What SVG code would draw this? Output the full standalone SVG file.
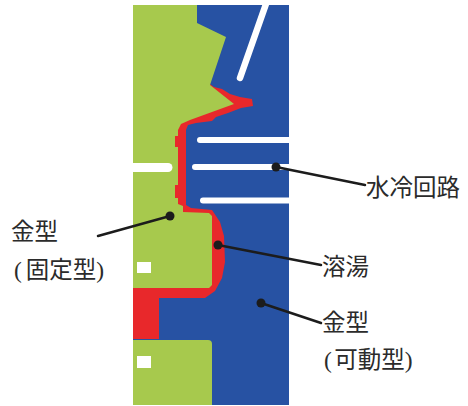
<svg xmlns="http://www.w3.org/2000/svg" width="468" height="406" viewBox="0 0 468 406">
  <style>
    .die-moving { fill: #2752a3; }
    .die-fixed { fill: #a7c94d; }
    .melt { fill: #e8282b; }
    .cool { fill: #ffffff; }
    .leader { stroke: #1c1c1c; stroke-width: 2.5; fill: none; stroke-linecap: round; }
    .dot { fill: #1c1c1c; }
    .label { font-family: "Liberation Serif", "Noto Sans CJK JP", serif; font-size: 23.5px; fill: #2b2b2b; }
  </style>
  <defs>
    <clipPath id="panel-clip">
      <rect x="133" y="5" width="156" height="400"/>
    </clipPath>
  </defs>

  <rect width="468" height="406" fill="#ffffff"/>

  <!-- cross-section of the die -->
  <g id="mold-section" clip-path="url(#panel-clip)">
    <!-- movable die (blue) -->
    <rect class="die-moving" x="133" y="5" width="156" height="400"/>
    <!-- molten metal layer along the die faces -->
    <path class="melt" d="M207,82 L214,87 L222,89 L230,94 L240,97 L252,99 L253,106 L241,108 L228,113 L216,117 L212,121 L196,123 L188,125 L186,130 L186,205 L191,208 L212,210 L220,222 L224,236 L225,262 L222,278 L215,291 L205,298 L159,298 L159,339 L133,339 L133,82 Z"/>
    <!-- fixed die (green), upper part -->
    <path class="die-fixed" d="M133,5 L197,5 L197,23 L226,37 L210,85 L234,104 L190,120 L181,124 L178,130 L178,204 L183,206 L183,212 L209,213 L212,216 L212,285 L209,288 L133,288 Z"/>
    <!-- melt pockets cut into the fixed die -->
    <rect class="melt" x="175" y="136" width="6" height="11"/>
    <rect class="melt" x="175" y="185" width="6" height="13"/>
    <!-- fixed die, lower part -->
    <path class="die-fixed" d="M133,340 L208,340 Q212,340 212,344 L212,405 L133,405 Z"/>

    <!-- cooling channels -->
    <line x1="266" y1="4" x2="240" y2="78" stroke="#ffffff" stroke-width="6.5" stroke-linecap="round"/>
    <path class="cool" d="M289,137 H200 A3,3 0 0 0 200,143 H289 Z"/>
    <path class="cool" d="M289,164 H195 A3,3 0 0 0 195,170 H289 Z"/>
    <path class="cool" d="M289,197.5 H203 A3,3 0 0 0 203,203.5 H289 Z"/>
    <path class="cool" d="M133,163 H168 A4.5,4.5 0 0 1 168,172 H133 Z"/>
    <rect class="cool" x="137" y="262" width="14" height="11"/>
    <rect class="cool" x="137" y="356" width="14" height="12"/>
  </g>

  <!-- leader lines -->
  <g id="leaders">
    <line class="leader" x1="276" y1="167" x2="365" y2="185"/>
    <circle class="dot" cx="276" cy="167" r="4.5"/>
    <line class="leader" x1="170" y1="216" x2="98" y2="236"/>
    <circle class="dot" cx="170" cy="216" r="4.5"/>
    <line class="leader" x1="218" y1="245" x2="321" y2="265"/>
    <circle class="dot" cx="218" cy="245" r="4.5"/>
    <line class="leader" x1="261" y1="303" x2="321" y2="323"/>
    <circle class="dot" cx="261" cy="303" r="4.5"/>
  </g>

  <g id="label-cooling">
    <text class="label" x="366" y="196">水冷回路</text>
  </g>
  <g id="label-fixed-die">
    <text class="label" x="11" y="240">金型</text>
    <text class="label" x="14" y="278">(<tspan dx="4">固定型</tspan>)</text>
  </g>
  <g id="label-melt">
    <text class="label" x="322" y="275">溶湯</text>
  </g>
  <g id="label-moving-die">
    <text class="label" x="322" y="331">金型</text>
    <text class="label" x="324" y="368">(<tspan dx="2.5">可動型</tspan>)</text>
  </g>
</svg>
